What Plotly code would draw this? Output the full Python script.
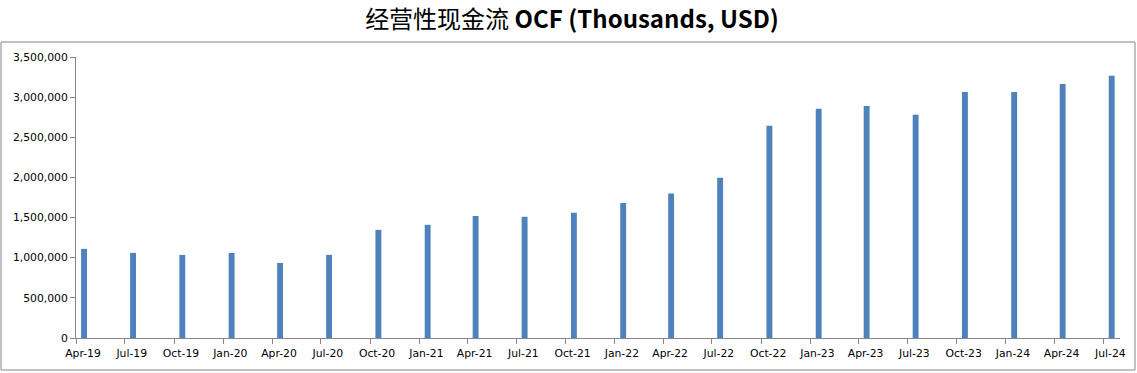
import plotly.graph_objects as go

# Quarter labels (first month of each quarter) and operating cash flow values (thousands USD)
quarters = ["2019-04", "2019-07", "2019-10", "2020-01", "2020-04", "2020-07", "2020-10",
            "2021-01", "2021-04", "2021-07", "2021-10", "2022-01", "2022-04", "2022-07",
            "2022-10", "2023-01", "2023-04", "2023-07", "2023-10", "2024-01", "2024-04", "2024-07"]
ocf = [1110000, 1060000, 1035000, 1060000, 935000, 1035000, 1347000,
       1410000, 1520000, 1510000, 1560000, 1680000, 1800000, 1995000,
       2645000, 2855000, 2890000, 2780000, 3065000, 3065000, 3165000, 3265000]

W, H = 1137, 373
L, R, T, B = 76, 17, 57, 35
pw, ph = W - L - R, H - T - B

fig = go.Figure()
fig.add_trace(go.Bar(
    x=quarters, y=ocf,
    xperiod="M1", xperiodalignment="middle",
    width=11 * 86400000,
    marker=dict(color="#4F81BD", line=dict(width=0)),
    hoverinfo="x+y",
))

axis_color = "#868686"
tick_font = dict(family="DejaVu Sans, Verdana, sans-serif", size=10.8, color="#000000")
fig.update_layout(
    width=W, height=H,
    margin=dict(l=L, r=R, t=T, b=B, pad=0),
    paper_bgcolor="white", plot_bgcolor="white",
    showlegend=False,
    title=dict(
        text="经营性现金流 <b>OCF (Thousands, USD)</b>",
        x=572 / W, xanchor="center", xref="container",
        y=1 - 20 / H, yanchor="middle", yref="container",
        font=dict(family="Noto Sans CJK SC, Open Sans, sans-serif", size=24, color="#000000"),
    ),
    xaxis=dict(
        type="date",
        range=["2019-04-01", "2024-08-01"],
        tick0="2019-04-01", dtick="M3", tickformat="%b-%y",
        ticks="outside", ticklen=5, tickcolor=axis_color,
        ticklabelshift=7,
        showline=True, linecolor=axis_color, linewidth=1,
        showgrid=False, zeroline=False,
        tickfont=tick_font,
    ),
    yaxis=dict(
        range=[0, 3500000], dtick=500000, tickformat=",",
        ticks="outside", ticklen=5, tickcolor=axis_color,
        showline=True, linecolor=axis_color, linewidth=1,
        showgrid=False, zeroline=False,
        tickfont=tick_font,
    ),
    shapes=[dict(
        type="rect", xref="paper", yref="paper",
        x0=(1 - L) / pw, x1=(1135 - L) / pw,
        y0=(H - B - 370) / ph, y1=(H - B - 42) / ph,
        line=dict(color=axis_color, width=1), fillcolor="rgba(0,0,0,0)", layer="below",
    )],
)

fig.write_html("out.html", config={"displayModeBar": False},
               post_script="document.body.style.margin='0';")
